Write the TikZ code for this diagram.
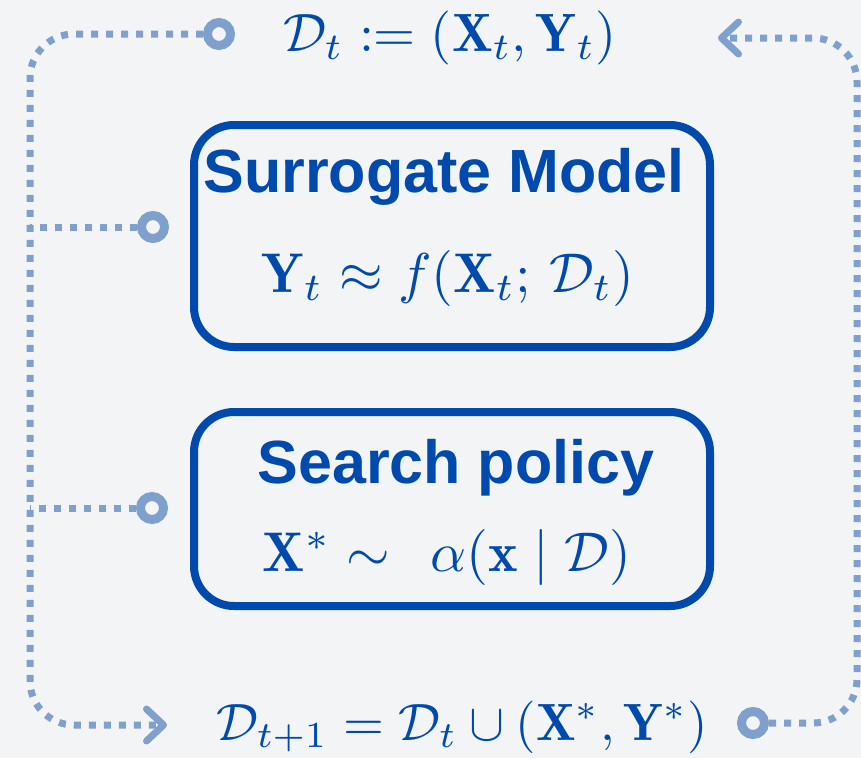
\RequirePackage{fix-cm}
\documentclass[tikz,border=0pt]{standalone}
\usepackage{amsmath}
\usepackage{fontspec}
\newfontfamily\headfont{Liberation Sans}
\usetikzlibrary{arrows.meta}
\definecolor{bggray}{HTML}{F3F4F6}
\definecolor{boxblue}{HTML}{004AAD}
\definecolor{loopblue}{HTML}{7FA0CD}
% 10pt 字形放大,笔画更粗
\newcommand{\bigmath}[2]{\scalebox{#1}{$#2$}}

\begin{document}
\begin{tikzpicture}[x=1pt, y=-1pt]
        % ================= 样式 =================
        \tikzset{
            % 圆角方框
            stage_box/.style={draw=boxblue, line width=8pt, rounded corners=40pt, inner sep=0pt},
            % 方框标题
            stage_title/.style={anchor=base, text=boxblue, font=\headfont\bfseries\fontsize{61}{72}\selectfont, inner sep=0pt},
            % 公式
            math_text/.style={anchor=base, text=boxblue, font=\fontsize{10}{12}\selectfont, inner sep=0pt},
            % 空心圆端口
            port/.style={circle, draw=loopblue, line width=9pt, minimum size=23pt, inner sep=0pt},
            % 点线回路
            loop_edge/.style={loopblue, line width=7pt, dash pattern=on 7pt off 8pt, rounded corners=44pt},
            loop_tip/.style={-{Straight Barb[length=17pt, width=32pt, round]}}
        }

        % 背景
        \useasboundingbox (0,0) rectangle (861,758);
        \fill[bggray] (0,0) rectangle (861,758);

        % ================= 回路的拐角 =================
        \coordinate (nw) at (30,34);
        \coordinate (sw) at (30,725);
        \coordinate (ne) at (857,38);
        \coordinate (se) at (857,723);
        \coordinate (in_tip) at (167,725);
        \coordinate (out_tip) at (718,38);

        % ================= 方框 =================
        \node[stage_box, minimum width=516pt, minimum height=222pt] (surr) at (452,236) {};
        \node[stage_box, minimum width=516pt, minimum height=194pt] (search) at (452,509) {};

        \node[stage_title] (surr_title) at (444,192) {Surrogate Model};
        \node[math_text] (surr_math) at (448,292) {\bigmath{5.6}{\mathbf{Y}_t \approx f(\mathbf{X}_t;\, \mathcal{D}_t)}};
        \node[stage_title] (search_title) at (456,483) {Search policy};
        \node[math_text] (search_math) at (447,571) {\bigmath{5.6}{\mathbf{X}^* \sim \;\, \alpha(\mathbf{x} \mid \mathcal{D})}};

        % ================= 数据集 =================
        \node[math_text] (data_now) at (450,51) {\bigmath{5.4}{\mathcal{D}_t := (\mathbf{X}_t, \mathbf{Y}_t)}};
        \node[math_text] (data_next) at (462,740) {\bigmath{5.25}{\mathcal{D}_{t+1} = \mathcal{D}_t \cup (\mathbf{X}^*, \mathbf{Y}^*)}};

        % ================= 端口 =================
        \node[port] (data_port) at (219,34) {};
        \node[port] (surr_port) at (153,227) {};
        \node[port] (search_port) at (152,508) {};
        \node[port] (next_port) at (753,723) {};

        % ================= 连线 =================
        \draw[loop_edge, loop_tip] (data_port.west) -- (nw) -- (sw) -- (in_tip);
        \draw[loop_edge] (surr_port.west) -- (surr_port.west -| nw);
        \draw[loop_edge] (search_port.west) -- (search_port.west -| nw);
        \draw[loop_edge, loop_tip] (next_port.east) -- (se) -- (ne) -- (out_tip);

    \end{tikzpicture}
\end{document}
